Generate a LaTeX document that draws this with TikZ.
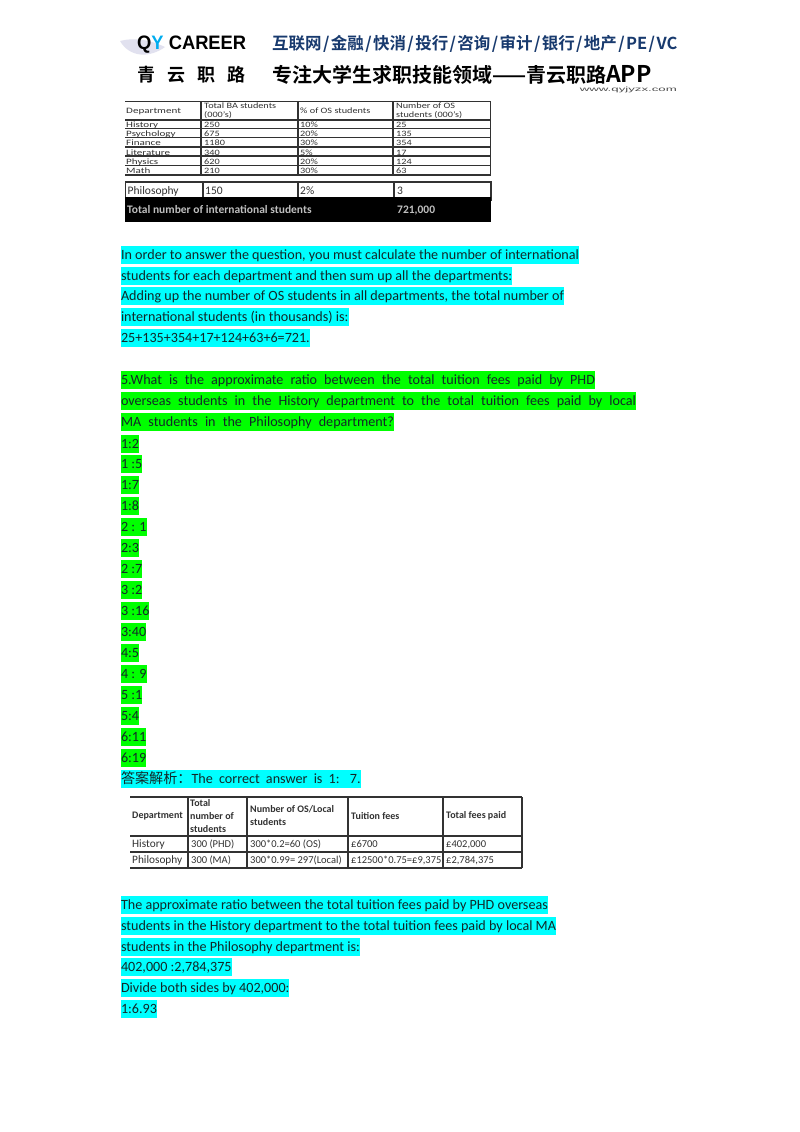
\documentclass[tikz,border=0pt]{standalone}
\usepackage{fontspec}
\setmainfont{Carlito}
\newfontfamily\cjk{Noto Sans CJK SC}
\newfontfamily\cjkbold{Noto Sans CJK SC Bold}
\newfontfamily\brandfont{Liberation Sans}
\definecolor{aqua}{RGB}{0,255,255}
\definecolor{lime}{RGB}{0,255,0}
\definecolor{inktext}{RGB}{18,40,40}
\definecolor{headblue}{RGB}{24,58,110}
\definecolor{rulegray}{RGB}{50,50,50}
\newcommand\slashgap{\kern1.4pt/\kern1.4pt}
\tikzset{
  mark line/.style={anchor=north west,inner sep=0pt,outer sep=0pt,text=inktext,
    font=\fontsize{14.12}{16}\selectfont,text depth=4.5pt,text height=13.5pt},
  cyan line/.style={mark line,fill=aqua},
  lime line/.style={mark line,fill=lime},
  cell one/.style={anchor=west,inner sep=0pt,text=rulegray,font=\fontsize{8.2}{9.5}\selectfont,align=left},
  cell row/.style={cell one,text height=6pt,text depth=2pt},
  cell big/.style={anchor=west,inner sep=0pt,text=rulegray,font=\fontsize{11.5}{12}\selectfont,text height=8pt,text depth=2.5pt},
  cell dark/.style={cell big,text=white!75!black,font=\fontsize{11.5}{12}\bfseries\selectfont},
  cell two/.style={anchor=west,inner sep=0pt,text=rulegray,font=\fontsize{10.5}{13}\selectfont,text height=8pt,text depth=2.5pt},
  cell name/.style={cell two,font=\fontsize{11.3}{13}\selectfont},
  cell head/.style={anchor=west,inner sep=0pt,text=rulegray,align=left,font=\fontsize{10}{13}\bfseries\selectfont},
  rule/.style={draw=rulegray,line width=1.2pt},
  head top/.style={anchor=west,inner sep=0pt,text=headblue,font=\fontsize{16.5}{20}\cjkbold},
  head low/.style={anchor=west,inner sep=0pt,text=black,font=\fontsize{20}{24}\cjkbold},
  head char/.style={head low,font=\fontsize{18}{20}\cjkbold}
}
\begin{document}
\begin{tikzpicture}[x=1pt,y=-1pt]
  \useasboundingbox[fill=white] (0,0) rectangle (800,1132);
  % letterhead
  \fill[blue!30!gray!18] (120,41) .. controls (135,37) and (150,40) .. (165,47) .. controls (150,58) and (130,58) .. (120,41);
  \node[head top,text=black] (brand) at (137,44.5) {\resizebox{109pt}{13.6pt}{\brandfont\bfseries Q\textcolor{cyan}{Y} CAREER}};
  \node[head top] (sectors) at (272,44) {互联网\slashgap 金融\slashgap 快消\slashgap 投行\slashgap 咨询\slashgap 审计\slashgap 银行\slashgap 地产\slashgap PE\slashgap VC};
  \node[head char] (qing) at (137,75) {青};
  \node[head char] (yun) at (167,75) {云};
  \node[head char] (zhi) at (197,75) {职};
  \node[head char] (lu) at (227,75) {路};
  \node[head low] (slogan) at (272,75) {专注大学生求职技能领域——青云职路{\fontsize{23}{24}\cjkbold APP}};
  \node[anchor=east,inner sep=0pt,text=black!70] (web) at (677,90) {\resizebox{97pt}{4.6pt}{\brandfont www.qyjyzx.com}};
  % first table
  \foreach \y in {101.5,120,128.5,137.5,147,156,165.5,175} \draw[rule] (125,\y) -- (491,\y);
  \foreach \x in {201,298,393,490.5} \draw[rule] (\x,101.5) -- (\x,175);
  \node[cell row] (ta) at (126,111) {\scalebox{1.35}[1]{Department}};
  \node[cell one] (tb) at (204,111) {\scalebox{1.25}[1]{\shortstack[l]{Total BA students\\(000's)}}};
  \node[cell row] (tc) at (300,111) {\scalebox{1.25}[1]{\% of OS students}};
  \node[cell one] (td) at (396,111) {\scalebox{1.25}[1]{\shortstack[l]{Number of OS\\students (000's)}}};
  \foreach \n/\a/\b/\c/\d [count=\i from 0] in {History/250/10\%/25,Psychology/675/20\%/135,Finance/1180/30\%/354,Literature/340/5\%/17,Physics/620/20\%/124,Math/210/30\%/63} {
    \node[cell row] (ra\i) at (126,125.2+9.3*\i) {\scalebox{1.35}[1]{\n}};
    \node[cell row] (rb\i) at (204,125.2+9.3*\i) {\scalebox{1.25}[1]{\a}};
    \node[cell row] (rc\i) at (300,125.2+9.3*\i) {\scalebox{1.25}[1]{\b}};
    \node[cell row] (rd\i) at (396,125.2+9.3*\i) {\scalebox{1.25}[1]{\c}};
  }
  \draw[rule] (125.5,182) rectangle (491,200);
  \foreach \x in {203,298,394} \draw[rule] (\x,182) -- (\x,200);
  \fill[black] (125,197) rectangle (491,222);
  \node[cell big] (pa) at (127.5,191.3) {Philosophy};
  \node[cell big] (pb) at (205,191.3) {150};
  \node[cell big] (pc) at (300,191.3) {2\%};
  \node[cell big] (pd) at (397,191.3) {3};
  \node[cell dark] (totname) at (127,211) {Total number of international students};
  \node[cell dark] (totval) at (397,211) {721,000};
  % cyan block
  \node[cyan line] (c1) at (121,245.5) {In order to answer the question, you must calculate the number of international};
  \node[cyan line] (c2) at (121,266.7) {students for each department and then sum up all the departments:};
  \node[cyan line] (c3) at (121,287) {Adding up the number of OS students in all departments, the total number of};
  \node[cyan line] (c4) at (121,308.3) {international students (in thousands) is:};
  \node[cyan line] (c5) at (121,329.3) {25+135+354+17+124+63+6=721.};
  % question
  \node[lime line] (q1) at (121,371) {\makebox[474pt][s]{5.What is the approximate ratio between the total tuition fees paid by PHD}};
  \node[lime line] (q2) at (121,392) {\makebox[515pt][s]{overseas students in the History department to the total tuition fees paid by local}};
  \node[lime line] (q3) at (121,413) {\makebox[273pt][s]{MA students in the Philosophy department?}};
  % options
  \foreach \t [count=\i from 0] in {1:2,1 :5,1:7,1:8,2 : 1,2:3,2 :7,3 :2,3 :16,3:40,4:5,4 : 9,5 :1,5:4,6:11,6:19}
    \node[lime line] (opt\i) at (121,434.5+20.95*\i) {\t};
  % answer line
  \node[cyan line] (ans) at (121,770) {{\cjk 答案解析：}\makebox[169pt][s]{The correct answer is 1: 7.}};
  % second table
  \foreach \y in {797,836,852,868} \draw[rule] (130,\y) -- (522,\y);
  \foreach \x in {188,247,348,443,522} \draw[rule] (\x,797) -- (\x,868);
  \node[cell head] (ha) at (132,816) {Department};
  \node[cell head] (hb) at (190,816) {Total\\number of\\students};
  \node[cell head] (hc) at (250,816) {Number of OS/Local\\students};
  \node[cell head] (hd) at (351,816) {Tuition fees};
  \node[cell head] (he) at (446,816) {Total fees paid};
  \node[cell name] (aa) at (132,845) {History};
  \node[cell two] (ab) at (191,845) {300 (PHD)};
  \node[cell two] (ac) at (250,845) {300*0.2=60 (OS)};
  \node[cell two] (ad) at (351,845) {£6700};
  \node[cell two] (ae) at (446,845) {£402,000};
  \node[cell name] (ba) at (132,860.7) {Philosophy};
  \node[cell two] (bb) at (191,860.7) {300 (MA)};
  \node[cell two] (bc) at (250,860.7) {300*0.99= 297(Local)};
  \node[cell two] (bd) at (351,860.7) {£12500*0.75=£9,375};
  \node[cell two] (be) at (446,860.7) {£2,784,375};
  % closing block
  \node[cyan line] (e1) at (121,895.7) {The approximate ratio between the total tuition fees paid by PHD overseas};
  \node[cyan line] (e2) at (121,916.7) {students in the History department to the total tuition fees paid by local MA};
  \node[cyan line] (e3) at (121,937.7) {students in the Philosophy department is:};
  \node[cyan line] (e4) at (121,958.3) {402,000 :2,784,375};
  \node[cyan line] (e5) at (121,979.3) {Divide both sides by 402,000:};
  \node[cyan line] (e6) at (121,1000.3) {1:6.93};
\end{tikzpicture}
\end{document}
